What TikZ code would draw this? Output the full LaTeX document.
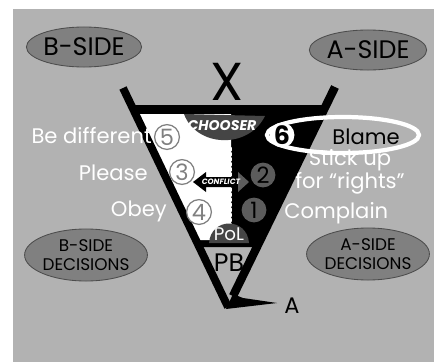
\documentclass[tikz,border=0pt]{standalone}
\usepackage{fontspec}
\setmainfont{Poppins}
\usetikzlibrary{arrows.meta, calc, shapes.geometric}

\definecolor{panelgray}{gray}{0.70}
\definecolor{ovalgray}{gray}{0.50}
\definecolor{shadegray}{gray}{0.27}
\definecolor{numgray}{gray}{0.36}

\begin{document}
\begin{tikzpicture}[x=0.025cm, y=-0.025cm,
  sideoval/.style={ellipse, draw=black!70, fill=ovalgray, line width=0.6pt,
    inner sep=0pt, align=center},
  whitelabel/.style={text=white, inner sep=0pt, font=\fontsize{15}{15}\selectfont},
  bnum/.style={circle, draw=gray, fill=white, line width=0.9pt, minimum size=0.62cm,
    inner sep=0pt, text=gray, font=\fontsize{16}{16}\selectfont},
  anum/.style={circle, fill=numgray, minimum size=0.62cm, inner sep=0pt,
    text=black, font=\fontsize{16}{16}\selectfont}]
  \useasboundingbox (0,0) rectangle (434,362);
  % gray panel
  \fill[panelgray] (13,9) rectangle (434,362);
  % side ovals
  \node[sideoval, minimum width=2.3cm, minimum height=1cm,
    font=\fontsize{18}{18}\selectfont] (bside) at (84,47) {B-SIDE};
  \node[sideoval, minimum width=2.3cm, minimum height=1cm,
    font=\fontsize{18}{18}\selectfont] (aside) at (368,50) {A-SIDE};
  \node[sideoval, minimum width=2.7cm, minimum height=1.3cm,
    font=\fontsize{12}{13}\selectfont] (bdec) at (86,255) {B-SIDE\\DECISIONS};
  \node[sideoval, minimum width=2.7cm, minimum height=1.3cm,
    font=\fontsize{12}{13}\selectfont] (adec) at (368,254) {A-SIDE\\DECISIONS};
  \node[font=\fontsize{38}{38}\selectfont, inner sep=0pt] (x) at (227,82) {X};
  % funnel body, white B-side half
  \fill[black] (131,105) -- (326,105) -- (257,247) -- (199,247) -- cycle;
  \fill[white] (135,114) -- (231,114) -- (231,240) -- (196,240) -- cycle;
  % chooser lens
  \fill[shadegray] (184,114) .. controls (196,147) and (248,150) .. (265,116) -- cycle;
  \node[text=white, inner sep=0pt, font=\fontsize{10}{10}\selectfont\bfseries\itshape]
    (chooser) at (222,126) {CHOOSER};
  % perforated divider
  \draw[white, line width=1.6pt, dotted, line cap=round] (231,148) -- (231,238);
  % conflict arrow
  \fill[black] (193,182) -- (206,172) -- (206,177) -- (238,177) -- (238,187)
    -- (206,187) -- (206,192) -- cycle;
  \fill[numgray] (238,172) -- (249,182) -- (238,192) -- cycle;
  \node[text=white, inner sep=0pt, font=\fontsize{5.5}{6}\selectfont\bfseries\itshape]
    (conflict) at (221,182) {CONFLICT};
  % PoL dome
  \fill[shadegray] (209,243) .. controls (211,217) and (247,217) .. (249,243) -- cycle;
  \node[text=white, inner sep=0pt, font=\fontsize{13}{13}\selectfont] (pol) at (229,234) {PoL};
  % arms, base and pointer
  \draw[line width=5.6pt] (123,88) -- (228,307);
  \draw[line width=6pt] (335,87) -- (233,296);
  \fill (226,309) -- (233,294) -- (243,298) -- (277,303) -- cycle;
  \node[font=\fontsize{18}{18}\selectfont, inner sep=0pt] (pb) at (229,263) {PB};
  \node[font=\fontsize{16}{16}\selectfont, inner sep=0pt] (a) at (292,306) {A};
  % numbered steps
  \node[bnum] (n5) at (167,137) {5};
  \node[bnum] (n3) at (182,172) {3};
  \node[bnum] (n4) at (199,212) {4};
  \node[anum] (n2) at (263,175) {2};
  \node[anum] (n1) at (254,210) {1};
  % blame ring
  \draw[white, line width=3pt] (343,135) ellipse [x radius=76, y radius=18];
  \node[circle, fill=white, minimum size=0.6cm, inner sep=0pt,
    font=\fontsize{18}{18}\selectfont\bfseries] (n6) at (282,135) {6};
  \node[inner sep=0pt, font=\fontsize{15}{15}\selectfont] (blame) at (366,137) {Blame};
  % labels
  \node[whitelabel, anchor=east] (differ) at (152,136) {Be different};
  \node[whitelabel, anchor=east] (please) at (148,173) {Please};
  \node[whitelabel, anchor=east] (obey) at (167,211) {Obey};
  \node[whitelabel, align=center] (stick) at (350,172) {Stick up\\for “rights”};
  \node[whitelabel, anchor=west] (complain) at (284,213) {Complain};
\end{tikzpicture}
\end{document}
